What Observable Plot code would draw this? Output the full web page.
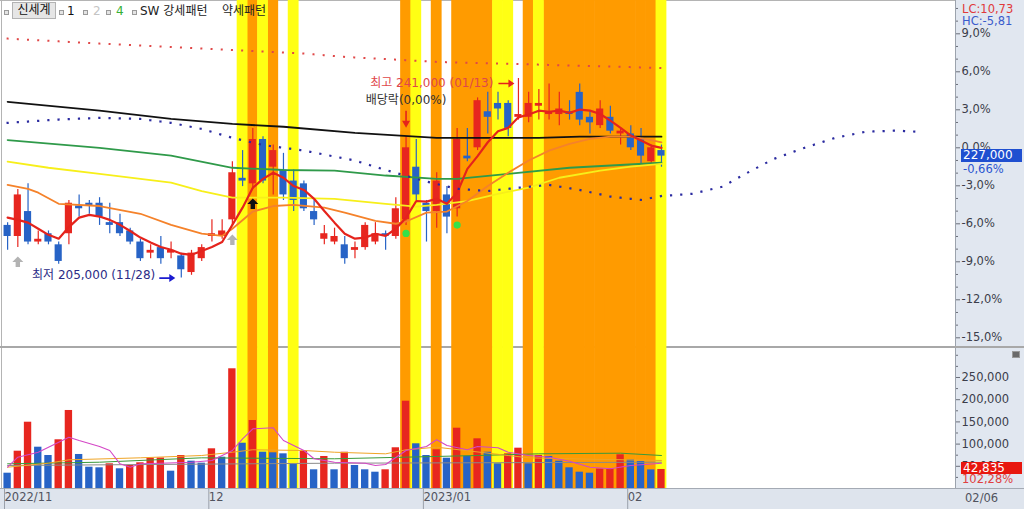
<!DOCTYPE html>
<html lang="ko">
<head>
<meta charset="utf-8">
<script src="https://cdn.jsdelivr.net/npm/d3@7"></script>
<script src="https://cdn.jsdelivr.net/npm/@observablehq/plot@0.6"></script>
<style>
  html, body { margin: 0; padding: 0; background: #fff; }
  #wrap { position: relative; width: 1024px; height: 509px; overflow: hidden; background: #fff;
          font-family: "DejaVu Sans", "Noto Sans CJK KR", sans-serif; }
  .abs { position: absolute; white-space: nowrap; }
  .ico { position: absolute; width: 3px; height: 3px; border: 1px solid #9a9a9a; background: #e4e4e4; }
  #main, #vol { position: absolute; left: 0; }
  #main { top: 0; }
  #vol { top: 348px; }
</style>
</head>
<body>
<div id="wrap">
  <div class="abs" style="left:955px;top:0;width:69px;height:509px;background:#e1e7f0;border-left:1px solid #9ca3ad;box-sizing:border-box"></div>
  <div class="abs" style="left:0;top:488px;width:1024px;height:21px;background:#dee4ed;border-top:1px solid #a4aab4;box-sizing:border-box"></div>
  <div class="abs" style="left:0;top:0;width:955px;height:1px;background:#b4b4b4"></div>
  <div class="abs" style="left:1px;top:0;width:1px;height:488px;background:#b4b4b4"></div>
  <div class="abs" style="left:0;top:346px;width:1024px;height:2px;background:#a8a8a8"></div>
  <div id="main"></div>
  <div id="vol"></div>
</div>
<script>
// ---------------- data ----------------
const STOCK = "신세계";
const PREV_CLOSE = 228500;          // 0% on the right price axis
const LAST_CHANGE = "-0,66%";
const LC_TEXT = "LC:10,73";
const HC_TEXT = "HC:-5,81";
const LAST_VOLUME = 42835;
const VOLUME_RATIO = "102,28%";
const LAST_DATE = "02/06";

const MONTH_START = [0, 20, 41, 61];
const MONTH_LABEL = ["2022/11", "12", "2023/01", "02"];

const OPEN  = [214500,212500,217000,211500,213000,211000,213000,218000,218500,218500,215000,215000,213500,211500,209500,210500,209500,209000,206000,208500,212500,212500,215500,223000,222000,230000,225000,224500,222500,222000,217000,212000,211500,211000,210000,210500,211500,213000,212500,215500,225000,218500,217000,220000,217500,227000,228500,235000,236500,236500,234000,234000,236000,234500,234500,235000,238500,234000,232500,234000,231000,231000,230000,226000,228000];
const HIGH  = [215000,221000,222000,213500,213500,211500,219000,220000,219000,219500,218500,216500,214000,212000,211000,212500,211500,209500,210000,211000,215500,215500,226000,228000,232000,230500,229000,227500,224500,222500,219000,214500,214000,212500,211500,215000,215000,213500,219500,230500,230000,219000,224000,221500,232000,232000,237500,238500,238500,237000,241000,238500,239000,240000,238500,237000,240000,235000,237000,236000,232000,232500,232000,229000,229000];
const LOW   = [210000,210500,211000,211000,211000,207500,211000,216000,216500,214500,213000,212500,211000,208000,208500,207500,208500,205000,205500,208000,211500,212000,214500,221500,221000,222000,220000,219000,217000,217000,214500,211000,211000,207500,208500,210000,211000,210000,212000,214500,219000,211500,214000,213000,216000,226000,228000,231000,233500,230500,233500,233000,233500,233500,232500,233500,232500,231000,232000,231000,229000,228000,225500,225500,225000];
const CLOSE = [212500,220000,211500,212000,211500,208000,218500,217500,218000,216000,214500,213000,211500,208500,210000,208500,210000,206500,209500,210500,213000,213500,224000,222500,230000,222500,228000,220000,219000,217500,215500,213000,212500,208500,210500,214500,213000,212500,217500,228500,220000,217000,222500,216000,230000,226500,237000,234000,235500,232000,234500,236500,236500,235000,235500,234500,233500,233000,235500,231500,231500,228500,227000,228500,227000];
const VOLUME = [34460,84000,149300,93000,74300,109700,175700,76600,48000,46600,55600,44400,51800,57900,68200,68700,39000,74300,61500,57000,89400,70500,269600,102000,153100,81700,80400,78100,54000,84000,42100,72100,42100,81700,51800,42100,36700,42100,91700,196600,100700,74300,87200,68200,135800,72700,111900,81700,55600,78100,90800,55600,74300,72100,61500,46600,36700,34500,43900,44400,75900,64600,60800,41880,42835];

// short moving average (red), one value per session
const MA_RED = [215900,215500,215000,213900,212800,212100,214200,215900,216400,216100,215500,214600,213500,212300,211400,210600,210100,209400,209200,209900,210600,211500,214600,217700,221300,222900,224000,223100,221600,220900,219300,217100,215000,213000,212100,212300,213000,212600,213900,215900,218900,218800,219300,218400,220400,224700,227000,229500,231500,232100,234000,234500,235200,235000,235200,234800,235400,235200,234600,233400,232100,230700,229800,228900,228500];
// other averages, read at selected sessions
const MA_ORANGE_IDX = [0,2,3,5,9,13,16,19,21,22,24,26,28,31,33,36,38,39,41,43,45,47,49,51,53,55,57,59,61,63,64];
const MA_ORANGE     = [221800,221100,220400,218400,218000,216600,214600,213000,212600,213900,217000,218000,218200,217700,216800,215300,214800,215200,216800,217000,218900,221600,224000,226200,228000,229200,230100,230500,230500,229900,229500];
const MA_YELLOW_IDX = [0,4,9,16,19,22,27,32,37,40,42,45,48,51,54,58,61,64];
const MA_YELLOW     = [226000,224900,223800,222200,220700,219500,219500,219300,218400,217900,218200,218900,220200,221300,223100,224400,225100,225600];
const MA_GREEN_IDX  = [0,9,16,22,27,32,37,42,44,49,55,64];
const MA_GREEN      = [229900,228500,227100,224900,224500,224400,223500,222900,222900,223800,224900,225800];
const MA_BLACK_IDX  = [0,9,16,22,27,34,42,52,56,64];
const MA_BLACK      = [236800,235200,233700,232800,232300,231200,230300,230300,230500,230500];
const DOT_RED_IDX   = [0,9,19,29,33,42,52,64];
const DOT_RED       = [248200,247300,246400,245500,244900,244000,243500,242900];
const DOT_BLUE_IDX  = [0,5,9,13,16,19,22,25,29,34,37,41,44,47,50,53,56,59,62,64,67,70,72,75,78,81,84,87,89];
const DOT_BLUE      = [233000,233600,233900,233700,233000,231900,230300,229000,228000,226200,224500,222400,221100,220700,221300,221800,220900,219700,219100,219800,220200,221500,223600,226500,228500,230300,231400,231600,231400];

// volume averages
const VMA_PINK_IDX   = [0,1,3,4,6,7,9,10,11,12,13,15,18,20,22,23,24,26,27,29,30,32,35,36,37,39,41,42,43,45,46,48,49,51,53,55,57,59,61,64];
const VMA_PINK       = [48000,70500,81700,93000,115500,108100,94600,85600,55600,48000,55600,57000,59200,63100,85600,111900,134400,136700,108100,85600,66900,59200,57000,51800,54000,85600,94600,109700,96800,87200,94600,91700,81700,74300,70500,61500,48000,44400,51800,57000];
const VMA_ORANGE_IDX = [0,4,6,13,19,22,24,29,32,37,39,42,49,51,55,64];
const VMA_ORANGE     = [48000,57000,64600,69100,74300,81700,87200,85600,81700,78100,87200,93000,74300,69100,66900,63100];
const VMA_GREEN_IDX  = [0,9,19,32,46,52,60,64];
const VMA_GREEN      = [55600,59200,69100,66900,74300,78100,79500,74300];
const VMA_GRAY_IDX   = [0,32,64];
const VMA_GRAY       = [51800,57000,59200];

// pattern highlight sessions
const PATTERN_ORANGE_IDX = [24,26,39,42,44,45,46,47,51,53,54,55,56,57,58,59,60,61,62,63];
const PATTERN_YELLOW_IDX = [23,25,28,40,48,49,52,64];

// signals
const SIGNAL_GRAY_IDX  = [1, 22];
const SIGNAL_BLACK_IDX = [24];
const SIGNAL_GREEN_IDX = [39, 44];

const HIGH_IDX = 50, HIGH_VALUE = 241000, HIGH_DATE = "01/13";
const LOW_IDX = 17, LOW_VALUE = 205000, LOW_DATE = "11/28";
const EXDIV_IDX = 39, EXDIV_TEXT = "배당락(0,00%)";

const PCT_MAJOR = [9, 6, 3, 0, -3, -6, -9, -12, -15];
const PCT_MINOR = [11, 10, 8, 7, 5, 4, 2, 1, -1, -2, -4, -5, -7, -8, -10, -11, -13, -14];
const VOL_MAJOR = [50000, 100000, 150000, 200000, 250000];
const VOL_MINOR = [25000, 75000, 125000, 175000, 225000, 275000, 300000];

// ---------------- drawing ----------------
const FONT = "'DejaVu Sans','Noto Sans CJK KR',sans-serif";
const RED = "#e7261f", BLUE = "#2763c6";
const X_DOMAIN = [-0.5, 92.78];
const comma = d3.format(",");

const candles = OPEN.map((o, i) => ({i, o, h: HIGH[i], l: LOW[i], c: CLOSE[i]}));
const candleColor = d => (d.c >= d.o ? RED : BLUE);
const volData = VOLUME.map((v, i) => ({i, v, up: i > 0 && v > VOLUME[i - 1]}));
const pts = (idx, val) => idx.map((i, k) => ({i, v: val[k]}));
const pctToPrice = k => PREV_CLOSE * (1 + k / 100);
const fmtPct = p => ((p / PREV_CLOSE - 1) * 100).toFixed(1).replace(".", ",") + "%";

const fatUp = {draw(c) { c.moveTo(0,-5.5); c.lineTo(5.5,0); c.lineTo(2.2,0); c.lineTo(2.2,5); c.lineTo(-2.2,5); c.lineTo(-2.2,0); c.lineTo(-5.5,0); c.closePath(); }};
const downArrow = {draw(c) { c.moveTo(-0.8,-10); c.lineTo(0.8,-10); c.lineTo(0.8,0); c.lineTo(4,0); c.lineTo(0,7); c.lineTo(-4,0); c.lineTo(-0.8,0); c.closePath(); }};
const rightArrow = {draw(c) { c.moveTo(-8,-0.8); c.lineTo(2,-0.8); c.lineTo(2,-4); c.lineTo(8,0); c.lineTo(2,4); c.lineTo(2,0.8); c.lineTo(-8,0.8); c.closePath(); }};

const stripes = () => [
  Plot.rect(PATTERN_ORANGE_IDX, {x1: d => d - 0.5, x2: d => d + 0.5, fill: "#ff9b00", insetLeft: -0.3, insetRight: -0.3}),
  Plot.rect(PATTERN_YELLOW_IDX, {x1: d => d - 0.5, x2: d => d + 0.5, fill: "#ffff14", insetLeft: -0.3, insetRight: -0.3})
];
const style = {background: "transparent", fontFamily: FONT, fontSize: "11.5px", color: "#3b3d4a", overflow: "visible"};

const main = Plot.plot({
  width: 1024, height: 348,
  marginLeft: 2, marginRight: 69, marginTop: 0, marginBottom: 0,
  x: {domain: X_DOMAIN, axis: null, label: null},
  y: {domain: [192477, 255072], range: [347, 0], label: null},
  color: {type: "identity"},
  style,
  marks: [
    ...stripes(),
    Plot.ruleX(candles, {x: "i", y1: "l", y2: "h", stroke: candleColor, strokeWidth: 1.2}),
    Plot.rect(candles, {x1: d => d.i - 0.35, x2: d => d.i + 0.35, y1: "o", y2: "c", fill: candleColor}),
    Plot.line(pts(MA_BLACK_IDX, MA_BLACK), {x: "i", y: "v", stroke: "#111", strokeWidth: 1.8}),
    Plot.line(pts(MA_GREEN_IDX, MA_GREEN), {x: "i", y: "v", stroke: "#2f9a4a", strokeWidth: 1.8}),
    Plot.line(pts(MA_YELLOW_IDX, MA_YELLOW), {x: "i", y: "v", stroke: "#f7ef1a", strokeWidth: 1.8}),
    Plot.line(pts(MA_ORANGE_IDX, MA_ORANGE), {x: "i", y: "v", stroke: "#f5822a", strokeWidth: 1.8}),
    Plot.line(MA_RED.map((v, i) => ({i, v})), {x: "i", y: "v", stroke: "#e5231c", strokeWidth: 2.2}),
    Plot.line(pts(DOT_RED_IDX, DOT_RED), {x: "i", y: "v", stroke: "#e04848", strokeWidth: 2, strokeDasharray: "0.01 10.2", strokeLinecap: "square"}),
    Plot.line(pts(DOT_BLUE_IDX, DOT_BLUE), {x: "i", y: "v", stroke: "#2b2ba0", strokeWidth: 2.2, strokeDasharray: "0.01 10.2", strokeLinecap: "square"}),
    Plot.dot(SIGNAL_GRAY_IDX, {x: d => d, y: d => LOW[d], dy: 14.5, symbol: fatUp, fill: "#b3b3b3", stroke: "none"}),
    Plot.dot(SIGNAL_BLACK_IDX, {x: d => d, y: d => LOW[d], dy: 14.5, symbol: fatUp, fill: "#111", stroke: "none"}),
    Plot.dot(SIGNAL_GREEN_IDX, {x: d => d, y: d => LOW[d], dy: 8, r: 3.6, fill: "#36e04a", stroke: "none"}),
    Plot.dot([EXDIV_IDX], {x: d => d, y: d => HIGH[d], dy: -16, symbol: downArrow, fill: "#e5231c", stroke: "none"}),
    Plot.text([EXDIV_IDX], {x: d => d, y: d => HIGH[d], dy: -37, text: () => EXDIV_TEXT, fill: "#333", fontSize: 12}),
    Plot.text([HIGH_IDX], {x: d => d, y: () => HIGH_VALUE, dx: -25, dy: 4.5, textAnchor: "end",
      text: () => `최고 ${comma(HIGH_VALUE)} (${HIGH_DATE})`, fill: "#e0474a", fontSize: 12}),
    Plot.dot([HIGH_IDX], {x: d => d, y: () => HIGH_VALUE, dx: -12, dy: 5, symbol: rightArrow, fill: "#e5231c", stroke: "none"}),
    Plot.text([LOW_IDX], {x: d => d, y: () => LOW_VALUE, dx: -26, dy: -2.5, textAnchor: "end",
      text: () => `최저 ${comma(LOW_VALUE)} (${LOW_DATE})`, fill: "#2b2b86", fontSize: 12}),
    Plot.dot([LOW_IDX], {x: d => d, y: () => LOW_VALUE, dx: -14, dy: 0, symbol: rightArrow, fill: "#1b1bd0", stroke: "none"}),
    Plot.axisY(PCT_MINOR.map(pctToPrice), {anchor: "right", tickSize: 2, tickFormat: () => "", label: null, stroke: "#6b6f7a"}),
    Plot.axisY(PCT_MAJOR.map(pctToPrice), {anchor: "right", tickSize: 4, tickPadding: 2, tickFormat: fmtPct, label: null, stroke: "#6b6f7a"})
  ]
});
document.getElementById("main").appendChild(main);

const VOL_DOMAIN = [0, 310776];
const vol = Plot.plot({
  width: 1024, height: 161,
  marginLeft: 2, marginRight: 69, marginTop: 0, marginBottom: 21,
  x: {domain: X_DOMAIN, label: null},
  y: {domain: VOL_DOMAIN, range: [140, 2], label: null},
  color: {type: "identity"},
  style,
  marks: [
    ...stripes(),
    Plot.rect(volData, {x1: d => d.i - 0.36, x2: d => d.i + 0.36, y1: 0, y2: "v", fill: d => (d.up ? RED : BLUE)}),
    Plot.line(pts(VMA_GRAY_IDX, VMA_GRAY), {x: "i", y: "v", stroke: "#8a8a8a", strokeWidth: 1}),
    Plot.line(pts(VMA_GREEN_IDX, VMA_GREEN), {x: "i", y: "v", stroke: "#3a9a3a", strokeWidth: 1}),
    Plot.line(pts(VMA_ORANGE_IDX, VMA_ORANGE), {x: "i", y: "v", stroke: "#f0a526", strokeWidth: 1}),
    Plot.line(pts(VMA_PINK_IDX, VMA_PINK), {x: "i", y: "v", stroke: "#d447c6", strokeWidth: 1.1}),
    Plot.axisY(VOL_MINOR, {anchor: "right", tickSize: 2, tickFormat: () => "", label: null, stroke: "#6b6f7a"}),
    Plot.axisY(VOL_MAJOR, {anchor: "right", tickSize: 4, tickPadding: 2, tickFormat: comma, label: null, stroke: "#6b6f7a"}),
    Plot.axisX(MONTH_START.map(i => i - 0.5), {anchor: "bottom", tickSize: 21, tickPadding: -17, textAnchor: "start", dx: 2,
      tickFormat: d => MONTH_LABEL[MONTH_START.indexOf(d + 0.5)], label: null, stroke: "#9aa0aa", fill: "#50535e"})
  ]
});
document.getElementById("vol").appendChild(vol);

// ---------------- overlays (legend and value boxes) ----------------
const wrap = document.getElementById("wrap");
function add(html, css) {
  const el = document.createElement("div");
  el.className = "abs";
  el.style.cssText = css;
  el.innerHTML = html;
  wrap.appendChild(el);
  return el;
}
// legend row
[4, 59, 83, 106, 132].forEach(x => add("", `left:${x}px;top:10px;width:3px;height:3px;border:1px solid #9a9a9a;background:#e4e4e4`));
add(STOCK, "left:12px;top:2px;width:44px;height:17px;background:#e6e6e6;border:1px solid #b3b3b3;box-sizing:border-box;font-size:12px;line-height:15px;text-align:center;color:#111");
add("1", "left:67px;top:3px;font-size:12px;line-height:16px;color:#111");
add("2", "left:93px;top:3px;font-size:12px;line-height:16px;color:#c4c4c4");
add("4", "left:116px;top:3px;font-size:12px;line-height:16px;color:#35b035");
add("SW 강세패턴", "left:140px;top:3px;font-size:12px;line-height:16px;color:#222");
add("약세패턴", "left:222px;top:3px;font-size:12px;line-height:16px;color:#222");

// price axis extras
add(LC_TEXT, "left:962px;top:3px;font-size:11.5px;line-height:13px;color:#e03a3a");
add(HC_TEXT, "left:962px;top:15px;font-size:11.5px;line-height:13px;color:#3a5ccc");
const yLast = main.scale("y").apply(CLOSE[CLOSE.length - 1]);
add(comma(CLOSE[CLOSE.length - 1]), `left:961px;top:${yLast - 6.5}px;width:61px;height:13px;background:#1f4fd0;color:#fff;font-size:12px;line-height:13px;padding-left:2px;box-sizing:border-box`);
add(LAST_CHANGE, `left:963px;top:${yLast + 7}px;font-size:11.5px;line-height:12px;color:#2a55d0`);

// volume axis extras
const vLast = 348 + vol.scale("y").apply(LAST_VOLUME);
add(comma(LAST_VOLUME), `left:961px;top:${vLast - 7}px;width:61px;height:12px;background:#e8170f;color:#fff;font-size:12px;line-height:12px;padding-left:2px;box-sizing:border-box`);
add(VOLUME_RATIO, `left:962px;top:${vLast + 5}px;font-size:11.5px;line-height:11px;color:#e04040`);
add("", "left:1012px;top:351px;width:6px;height:5px;background:#6a6a6a;border:1px solid #9a9a9a");
add(LAST_DATE, "left:965px;top:491px;font-size:11.5px;line-height:14px;color:#50535e");
</script>
</body>
</html>
